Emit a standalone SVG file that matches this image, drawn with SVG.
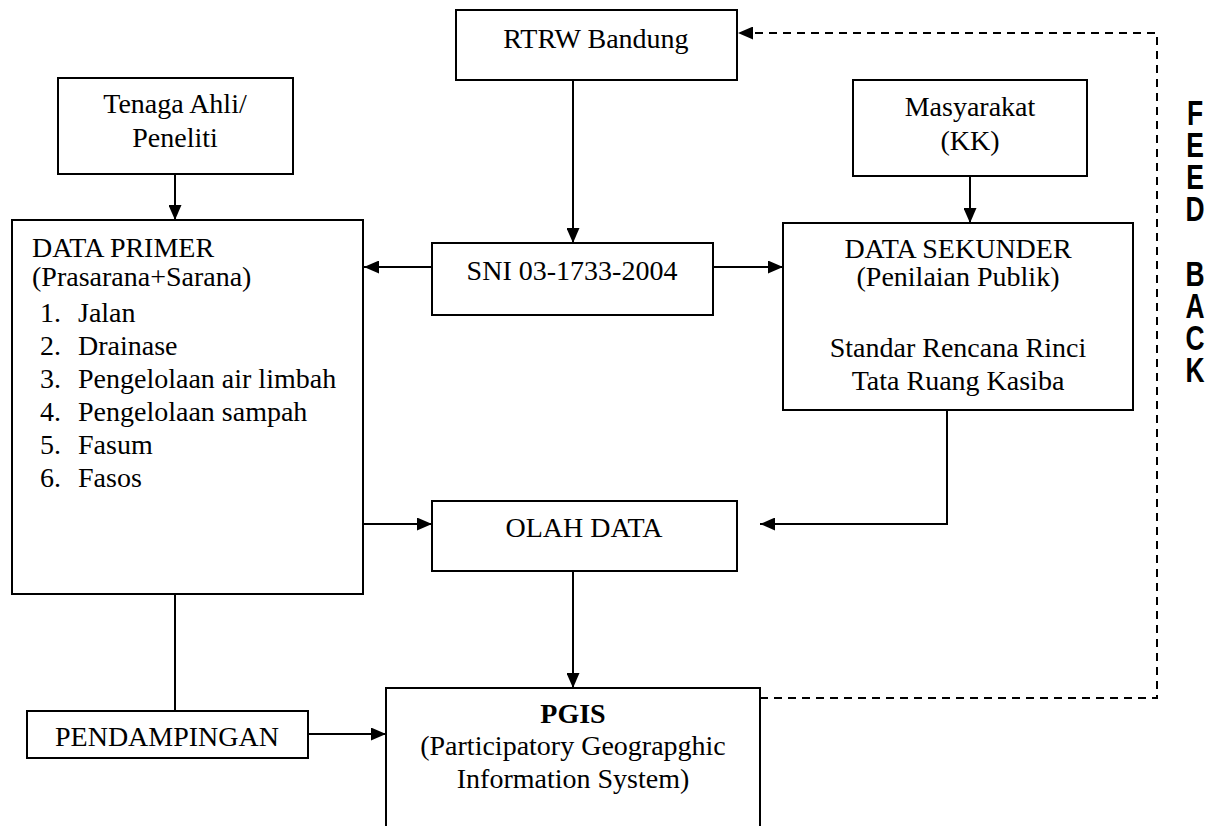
<svg xmlns="http://www.w3.org/2000/svg" width="1213" height="826" viewBox="0 0 1213 826">
<style>
.box{fill:#fff;stroke:#000;stroke-width:2}
.t{font-family:"Liberation Serif","Times New Roman",serif;font-size:28px;fill:#000}
.c{text-anchor:middle}
.ln{fill:none;stroke:#000;stroke-width:2}
.dash{fill:none;stroke:#000;stroke-width:2;stroke-dasharray:8 6}
.fb{font-family:"Liberation Sans",Arial,sans-serif;font-weight:bold;font-size:40px;fill:#000;writing-mode:vertical-rl;text-orientation:upright;letter-spacing:-8.5px}
</style>
<defs>
<marker id="ah" viewBox="0 0 15 13" refX="15" refY="6.5" markerWidth="15" markerHeight="13" markerUnits="userSpaceOnUse" orient="auto">
<path d="M0,0 L15,6.5 L0,13 Z" fill="#000"/>
</marker>
</defs>
<rect width="1213" height="826" fill="#fff"/>
<g id="connectors">
<line class="ln" x1="175" y1="174" x2="175" y2="220" marker-end="url(#ah)"/>
<line class="ln" x1="573" y1="80" x2="573" y2="243" marker-end="url(#ah)"/>
<line class="ln" x1="970" y1="176" x2="970" y2="223" marker-end="url(#ah)"/>
<line class="ln" x1="432" y1="267" x2="364" y2="267" marker-end="url(#ah)"/>
<line class="ln" x1="713" y1="267" x2="783" y2="267" marker-end="url(#ah)"/>
<line class="ln" x1="363" y1="524" x2="432" y2="524" marker-end="url(#ah)"/>
<polyline class="ln" points="947,410 947,524 760,524" marker-end="url(#ah)"/>
<line class="ln" x1="573" y1="571" x2="573" y2="688" marker-end="url(#ah)"/>
<line class="ln" x1="175" y1="594" x2="175" y2="711"/>
<line class="ln" x1="308" y1="734" x2="386" y2="734" marker-end="url(#ah)"/>
<polyline class="dash" points="760,698 1157,698 1157,33 738,33" marker-end="url(#ah)"/>
</g>
<g id="rtrw">
<rect class="box" x="456" y="10" width="281" height="70"/>
<text class="t c" x="596" y="48">RTRW Bandung</text>
</g>
<g id="tenaga">
<rect class="box" x="58" y="78" width="235" height="96"/>
<text class="t c" x="175" y="113">Tenaga Ahli/</text>
<text class="t c" x="175" y="147">Peneliti</text>
</g>
<g id="masyarakat">
<rect class="box" x="853" y="80" width="234" height="96"/>
<text class="t c" x="970" y="116">Masyarakat</text>
<text class="t c" x="970" y="150">(KK)</text>
</g>
<g id="dataprimer">
<rect class="box" x="12" y="220" width="351" height="374"/>
<text class="t" x="32" y="257">DATA PRIMER</text>
<text class="t" x="32" y="286">(Prasarana+Sarana)</text>
<text class="t" x="40" y="322">1.</text><text class="t" x="78" y="322">Jalan</text>
<text class="t" x="40" y="355">2.</text><text class="t" x="78" y="355">Drainase</text>
<text class="t" x="40" y="388">3.</text><text class="t" x="78" y="388">Pengelolaan air limbah</text>
<text class="t" x="40" y="421">4.</text><text class="t" x="78" y="421">Pengelolaan sampah</text>
<text class="t" x="40" y="454">5.</text><text class="t" x="78" y="454">Fasum</text>
<text class="t" x="40" y="487">6.</text><text class="t" x="78" y="487">Fasos</text>
</g>
<g id="sni">
<rect class="box" x="432" y="243" width="281" height="72"/>
<text class="t c" x="572" y="280">SNI 03-1733-2004</text>
</g>
<g id="datasekunder">
<rect class="box" x="783" y="223" width="350" height="187"/>
<text class="t c" x="958" y="258">DATA SEKUNDER</text>
<text class="t c" x="958" y="286">(Penilaian Publik)</text>
<text class="t c" x="958" y="357">Standar Rencana Rinci</text>
<text class="t c" x="958" y="390">Tata Ruang Kasiba</text>
</g>
<g id="olahdata">
<rect class="box" x="432" y="501" width="305" height="70"/>
<text class="t c" x="584" y="537">OLAH DATA</text>
</g>
<g id="pendampingan">
<rect class="box" x="27" y="711" width="281" height="47"/>
<text class="t c" x="167" y="746">PENDAMPINGAN</text>
</g>
<g id="pgis">
<rect class="box" x="386" y="688" width="374" height="160"/>
<text class="t c" x="573" y="723" font-weight="bold">PGIS</text>
<text class="t c" x="573" y="755">(Participatory Geograpghic</text>
<text class="t c" x="573" y="788">Information System)</text>
</g>
<g id="feedback" transform="translate(1195,9.4) scale(0.66,0.883)">
<text class="fb" x="0" y="95">FEED BACK</text>
</g>
</svg>
